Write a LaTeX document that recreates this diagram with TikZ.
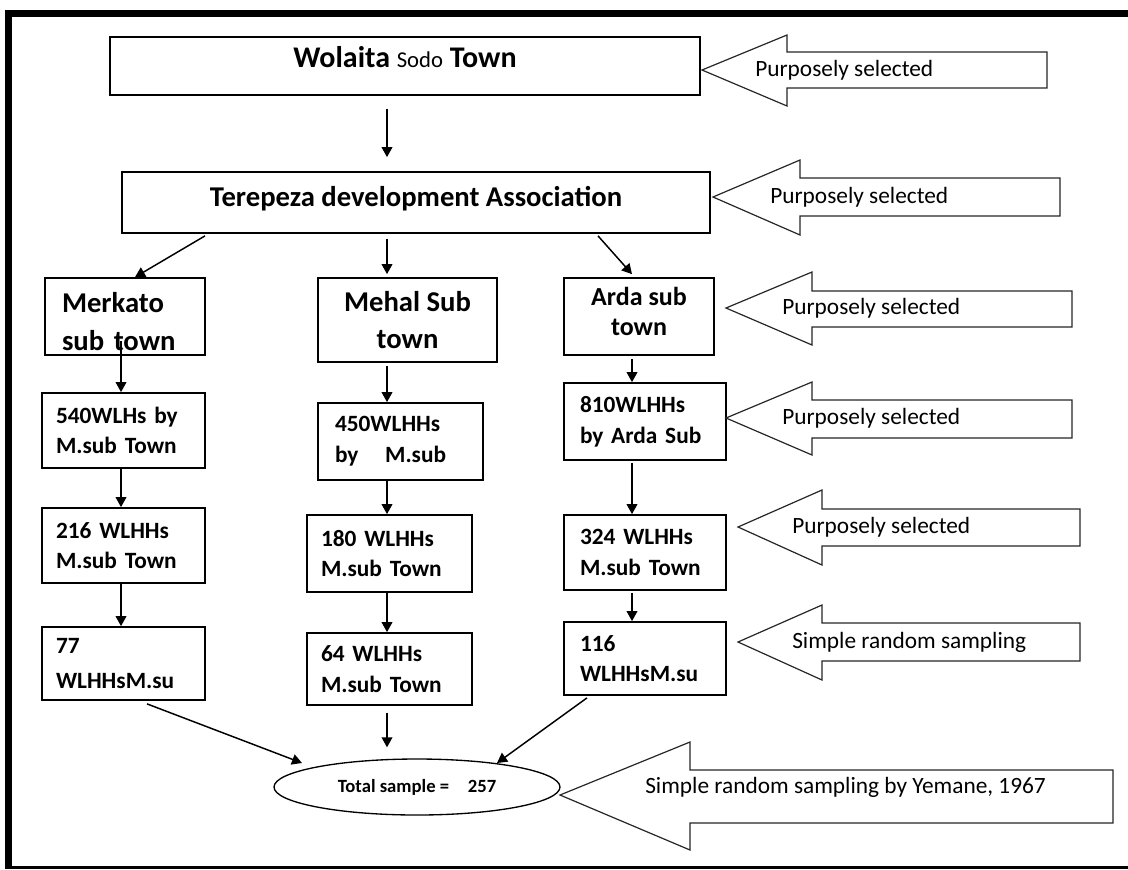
\documentclass[tikz,border=0pt]{standalone}
\usepackage{fontspec}
\setmainfont{Carlito}
\usetikzlibrary{arrows.meta,calc,shapes.geometric}
\begin{document}
\begin{tikzpicture}[x=0.75pt,y=-0.75pt,
  box/.style={draw,line width=1.3pt,inner sep=0pt},
  conn/.style={line width=1.1pt,-{Triangle[length=7.5pt,width=8pt]}},
  barrow/.style={draw=black!85,line width=0.9pt,fill=white},
  atext/.style={anchor=west,inner sep=0pt,font=\fontsize{17.5}{21}\selectfont},
  big/.style={font=\fontsize{21.5}{28}\selectfont\bfseries},
  mid/.style={font=\fontsize{17.5}{23}\selectfont\bfseries}
]
\useasboundingbox (0,0) rectangle (1128,869);
% outer frame
\fill (5,10) rectangle (1128,17);
\fill (5,10) rectangle (12,869);
\fill (5,866) rectangle (1128,869);

% top boxes
\node[box,minimum width=442.5pt,minimum height=43.5pt,text depth=14pt,
  font=\fontsize{22.5}{28}\selectfont\bfseries] (b1) at (405,66)
  {Wolaita {\mdseries\fontsize{17}{20}\selectfont Sodo} Town};
\node[box,big,minimum width=441pt,minimum height=45.75pt,text depth=9pt] (b2) at (416,202.5)
  {Terepeza development Association};

% second row
\node[box,big,minimum width=120pt,minimum height=57.75pt,align=left,text width=94.5pt,text depth=20.5pt] (mer) at (125,316.5)
  {Merkato\\sub town};
\node[box,big,minimum width=134.25pt,minimum height=63pt,align=center] (meh) at (407.5,320)
  {Mehal Sub\\town};
\node[box,font=\fontsize{19.5}{22.5}\selectfont\bfseries,minimum width=112.5pt,minimum height=57.75pt,align=center,text depth=8pt] (ard) at (639,316.5)
  {Arda sub\\town};

% Merkato column
\node[box,mid,minimum width=122.25pt,minimum height=56.25pt,align=left,text width=101.25pt] (m1) at (123.5,430.5)
  {540WLHs by\\M.sub Town};
\node[box,mid,minimum width=122.25pt,minimum height=56.25pt,align=left,text width=101.25pt] (m2) at (123.5,545.5)
  {216 WLHHs\\M.sub Town};
\node[box,font=\fontsize{17.5}{26}\selectfont\bfseries,minimum width=122.25pt,minimum height=54.75pt,align=left,text width=101.25pt] (m3) at (123.5,663.5)
  {77\\WLHHsM.su};

% Mehal column
\node[box,mid,minimum width=123.75pt,minimum height=57.75pt,align=left,text width=98.25pt] (h1) at (400.5,441.5)
  {450WLHHs\\by\hspace{20pt}M.sub};
\node[box,mid,minimum width=123.75pt,minimum height=57.75pt,align=left,text width=102.75pt] (h2) at (389.5,553.5)
  {180 WLHHs\\M.sub Town};
\node[box,mid,minimum width=123.75pt,minimum height=54pt,align=left,text width=102.75pt] (h3) at (389.5,669)
  {64 WLHHs\\M.sub Town};

% Arda column
\node[box,mid,minimum width=121.5pt,minimum height=57.75pt,align=left,text width=97.5pt] (a1) at (645,421.5)
  {810WLHHs\\by Arda Sub};
\node[box,mid,minimum width=121.5pt,minimum height=56.25pt,align=left,text width=97.5pt] (a2) at (645,552.5)
  {324 WLHHs\\M.sub Town};
\node[box,font=\fontsize{17.5}{22}\selectfont\bfseries,minimum width=121.5pt,minimum height=54.75pt,align=left,text width=97.5pt] (a3) at (645,658.5)
  {116\\WLHHsM.su};

% total
\node[ellipse,draw,line width=1pt,minimum width=214.5pt,minimum height=42pt,inner sep=0pt,
  font=\fontsize{14}{16}\selectfont\bfseries] (tot) at (417,787)
  {Total sample =\hspace{14pt}257};

% connectors
\draw[conn] ($(b1.south)+(-18,13)$) -- ($(b2.north)+(-29,-14)$);
\draw[conn] ($(b2.south)+(-211,2)$) -- ($(mer.north)+(10,0)$);
\draw[conn] ($(b2.south)+(-29,5)$) -- ($(meh.north)+(-20.5,-3)$);
\draw[conn] ($(b2.south)+(182,2)$) -- ($(ard.north)+(-7,-3)$);

\draw[conn] ($(mer.south)+(-4,-15)$) -- ($(m1.north)+(-2.5,0)$);
\draw[conn] ($(m1.south)+(-2.5,0)$) -- ($(m2.north)+(-2.5,0)$);
\draw[conn] ($(m2.south)+(-2.5,0)$) -- ($(m3.north)+(-2.5,0)$);

\draw[conn] ($(meh.south)+(-20.5,3)$) -- ($(h1.north)+(-13.5,0)$);
\draw[conn] ($(h1.south)+(-13.5,0)$) -- ($(h2.north)+(-2.5,0)$);
\draw[conn] ($(h2.south)+(-2.5,0)$) -- ($(h3.north)+(-2.5,0)$);

\draw[conn] ($(ard.south)+(-7,3)$) -- ($(a1.north)+(-13,0)$);
\draw[conn] ($(a1.south)+(-13,2)$) -- ($(a2.north)+(-13,0)$);
\draw[conn] ($(a2.south)+(-13,2)$) -- ($(a3.north)+(-13,0)$);

\draw[conn] ($(m3.south)+(23.5,3)$) -- ($(tot.center)+(-115,-24)$);
\draw[conn] ($(h3.south)+(-2.5,7)$) -- ($(tot.north)+(-30,-11)$);
\draw[conn] ($(a3.south)+(-58,2)$) -- ($(tot.center)+(80,-24)$);

% block arrows
\draw[barrow] (702,70) -- (787,35) -- (787,52) -- (1047,52) -- (1047,88) -- (787,88) -- (787,106) -- cycle;
\node[atext] (t1) at (755,70) {Purposely selected};
\draw[barrow] (713,197) -- (800,160) -- (800,178) -- (1060,178) -- (1060,216) -- (800,216) -- (800,235) -- cycle;
\node[atext] (t2) at (770,197) {Purposely selected};
\draw[barrow] (726,308) -- (812,272) -- (812,291) -- (1072,291) -- (1072,327) -- (812,327) -- (812,345) -- cycle;
\node[atext] (t3) at (782,308) {Purposely selected};
\draw[barrow] (726,418) -- (812,382) -- (812,400) -- (1072,400) -- (1072,438) -- (812,438) -- (812,455) -- cycle;
\node[atext] (t4) at (782,418) {Purposely selected};
\draw[barrow] (738,527) -- (822,490) -- (822,509) -- (1080,509) -- (1080,546) -- (822,546) -- (822,565) -- cycle;
\node[atext] (t5) at (792,527) {Purposely selected};
\draw[barrow] (738,642) -- (822,605) -- (822,623) -- (1080,623) -- (1080,661) -- (822,661) -- (822,680) -- cycle;
\node[atext] (t6) at (792,642) {Simple random sampling};
\draw[barrow] (560,795) -- (690,742) -- (690,770) -- (1113,770) -- (1113,823) -- (690,823) -- (690,850) -- cycle;
\node[atext] (t7) at (645,787) {Simple random sampling by Yemane, 1967};
\end{tikzpicture}
\end{document}
